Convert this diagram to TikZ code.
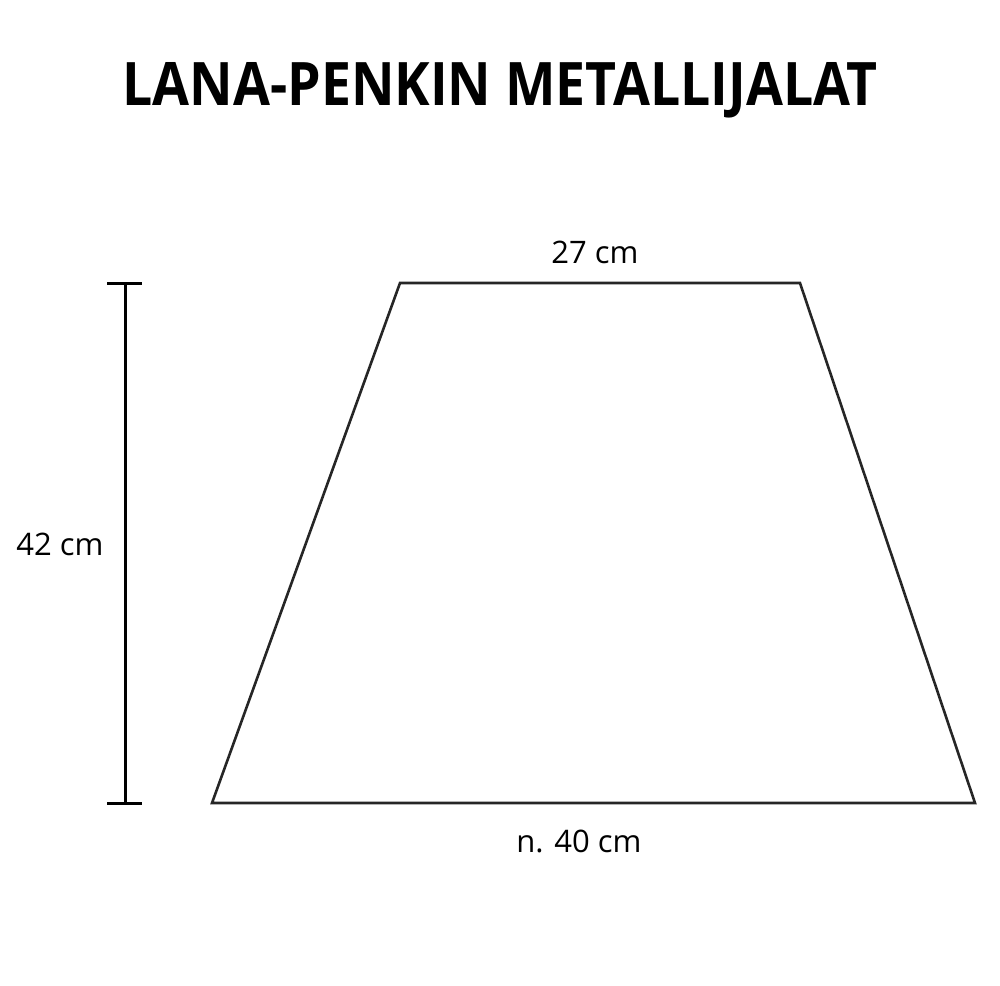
\documentclass[tikz,border=0pt]{standalone}
\usepackage{fontspec}
\setmainfont{Open Sans}
\newfontfamily\titlefont{Open Sans}[FakeStretch=0.893]
\tikzset{
  dimline/.style={line width=3pt, draw=black},
  shapeline/.style={line width=2.6pt, draw=black!85, line join=miter},
  lbl/.style={font=\fontsize{31}{36}\selectfont, inner sep=0pt, text=black},
}
\begin{document}
\begin{tikzpicture}[x=1pt,y=-1pt]
\useasboundingbox (0,0) rectangle (1000,985);
\node[font=\titlefont\bfseries\fontsize{60}{70}\selectfont, inner sep=0pt, anchor=base] (title) at (500,105) {LANA-PENKIN METALLIJALAT};
% trapezoid
\coordinate (tl) at (400,283);
\coordinate (tr) at (800,283);
\coordinate (br) at (975,803);
\coordinate (bl) at (212,803);
\draw[shapeline] (tl) -- (tr) -- (br) -- (bl) -- cycle;
% dimension line
\coordinate (dt) at (125,283);
\coordinate (db) at (125,803);
\coordinate (dtl) at (107,283);
\coordinate (dtr) at (142,283);
\coordinate (dbl) at (107,803);
\coordinate (dbr) at (142,803);
\draw[dimline] (dt) -- (db);
\draw[dimline] (dtl) -- (dtr);
\draw[dimline] (dbl) -- (dbr);
% labels
\node[lbl, anchor=base] (top) at (595,263) {27 cm};
\node[lbl, anchor=base] (left) at (60,555) {42 cm};
\node[lbl, anchor=base] (bottom) at (579,852) {n. 40 cm};
\end{tikzpicture}
\end{document}
